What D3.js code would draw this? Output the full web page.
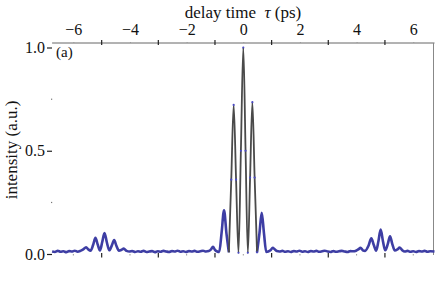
<!DOCTYPE html>
<html>
<head>
<meta charset="utf-8">
<script src="https://cdn.jsdelivr.net/npm/d3@7"></script>
<style>
    body { margin: 0; background: #fff; }
    svg, svg text { font-family: "Liberation Serif", "DejaVu Serif", serif; }
</style>
</head>
<body>
<svg id="chart" width="436" height="300"></svg>
<script>
const tau = [
    -6.75, -6.65, -6.55, -6.45, -6.35, -6.25, -6.15, -6.05, -5.95, -5.85,
    -5.75, -5.65, -5.55, -5.47, -5.39, -5.30, -5.22, -5.14, -5.06, -4.98,
    -4.90, -4.82, -4.73, -4.64, -4.56, -4.48, -4.39, -4.30, -4.22, -4.12,
    -4.02, -3.92, -3.82, -3.72, -3.62, -3.52, -3.42, -3.32, -3.22, -3.12,
    -3.02, -2.92, -2.82, -2.72, -2.62, -2.52, -2.42, -2.32, -2.22, -2.12,
    -2.02, -1.92, -1.82, -1.72, -1.62, -1.52, -1.42, -1.32, -1.22, -1.14,
    -1.07, -1.00, -0.92, -0.85, -0.765, -0.68, -0.595, -0.51, -0.425, -0.34,
    -0.255, -0.17, -0.085, 0.00, 0.08, 0.16, 0.24, 0.32, 0.40, 0.485,
    0.57, 0.65, 0.73, 0.81, 0.88, 0.96, 1.04, 1.10, 1.18, 1.28,
    1.38, 1.48, 1.58, 1.68, 1.78, 1.88, 1.98, 2.08, 2.18, 2.28,
    2.38, 2.48, 2.58, 2.68, 2.78, 2.88, 2.98, 3.08, 3.18, 3.28,
    3.38, 3.48, 3.58, 3.68, 3.78, 3.88, 3.98, 4.06, 4.14, 4.22,
    4.30, 4.42, 4.52, 4.61, 4.69, 4.77, 4.85, 4.93, 5.01, 5.10,
    5.18, 5.26, 5.35, 5.44, 5.52, 5.60, 5.70, 5.80, 5.90, 6.00,
    6.10, 6.20, 6.30, 6.40, 6.50, 6.60, 6.75
];
const intensity = [
    0.012, 0.010, 0.015, 0.011, 0.013, 0.009, 0.014, 0.012, 0.016, 0.011,
    0.015, 0.022, 0.033, 0.022, 0.016, 0.045, 0.078, 0.046, 0.017, 0.058,
    0.102, 0.058, 0.018, 0.042, 0.067, 0.040, 0.016, 0.020, 0.026, 0.015,
    0.012, 0.014, 0.010, 0.013, 0.011, 0.015, 0.010, 0.012, 0.014, 0.009,
    0.013, 0.011, 0.015, 0.012, 0.010, 0.014, 0.012, 0.016, 0.011, 0.013,
    0.010, 0.014, 0.012, 0.015, 0.011, 0.013, 0.016, 0.012, 0.014, 0.022,
    0.035, 0.020, 0.012, 0.010, 0.105, 0.212, 0.100, 0.008, 0.360, 0.722,
    0.360, 0.006, 0.500, 1.000, 0.500, 0.006, 0.370, 0.735, 0.370, 0.008,
    0.100, 0.200, 0.100, 0.010, 0.012, 0.018, 0.030, 0.024, 0.014, 0.012,
    0.015, 0.011, 0.013, 0.010, 0.014, 0.012, 0.016, 0.011, 0.013, 0.010,
    0.014, 0.012, 0.015, 0.011, 0.013, 0.016, 0.012, 0.010, 0.014, 0.011,
    0.013, 0.015, 0.012, 0.010, 0.014, 0.013, 0.016, 0.022, 0.030, 0.018,
    0.015, 0.040, 0.076, 0.042, 0.016, 0.062, 0.118, 0.062, 0.018, 0.048,
    0.086, 0.048, 0.017, 0.022, 0.031, 0.020, 0.012, 0.015, 0.011, 0.013,
    0.010, 0.014, 0.012, 0.015, 0.011, 0.013, 0.012
];

// fitted curve over the central burst
const fitTau = [-1.0, -0.92, -0.85, -0.765, -0.68, -0.595, -0.51, -0.425, -0.34, -0.255,
    -0.17, -0.085, 0.00, 0.08, 0.16, 0.24, 0.32, 0.40, 0.485, 0.57, 0.65, 0.73, 0.81, 0.88];
const fitInt = [0.014, 0.012, 0.010, 0.105, 0.212, 0.100, 0.008, 0.360, 0.722, 0.360,
    0.006, 0.500, 1.000, 0.500, 0.006, 0.370, 0.735, 0.370, 0.008, 0.100, 0.200, 0.100, 0.010, 0.012];

const xLabels = [-6, -4, -2, 0, 2, 4, 6];
const xMajor = [-5, -3, -1, 1, 3, 5];
const yLabels = [0, 0.5, 1.0];
const yMinor = [0.25, 0.75];

const svg = d3.select("#chart");
const blue = "#3e3ea4";
const serif = '"Liberation Serif", "DejaVu Serif", serif';

let x = d3.scaleLinear().domain([-6.75, 6.75]).range([52.1, 434.5]);
let y = d3.scaleLinear().domain([0, 1]).range([254, 47.5]);
const plotTop = 43, plotBottom = 254;

// frame: top and right only
svg.append("line").attr("x1", x.range()[0]).attr("x2", x.range()[1])
    .attr("y1", plotTop).attr("y2", plotTop).attr("stroke", "#666").attr("stroke-width", 1);
svg.append("line").attr("x1", 433.5).attr("x2", 433.5)
    .attr("y1", plotTop).attr("y2", plotBottom + 1).attr("stroke", "#888").attr("stroke-width", 1);

// top axis labels
let topLab = svg.append("g").attr("transform", `translate(0,${plotTop})`)
    .call(d3.axisTop(x).tickValues(xLabels).tickSize(1).tickPadding(7).tickFormat(d3.format("d")));
topLab.attr("font-family", serif).attr("font-size", 16);
topLab.select(".domain").remove();
topLab.selectAll(".tick line").attr("stroke", "#999");
topLab.selectAll(".tick text").attr("fill", "#111").style("font-family", serif);

// top odd ticks crossing the frame
svg.append("g").selectAll("line").data(xMajor).join("line")
    .attr("x1", d => x(d)).attr("x2", d => x(d))
    .attr("y1", plotTop - 3).attr("y2", plotTop + 2)
    .attr("stroke", "#222").attr("stroke-width", 1.2);

// bottom ticks
svg.append("g").selectAll("line").data(xMajor).join("line")
    .attr("x1", d => x(d)).attr("x2", d => x(d))
    .attr("y1", plotBottom - 1).attr("y2", plotBottom + 3.5)
    .attr("stroke", "#222").attr("stroke-width", 1.2);
svg.append("g").selectAll("line").data(xLabels).join("line")
    .attr("x1", d => x(d)).attr("x2", d => x(d))
    .attr("y1", plotBottom).attr("y2", plotBottom + 1.5)
    .attr("stroke", "#999").attr("stroke-width", 1);

// left axis
let left = svg.append("g").attr("transform", "translate(52,0)")
    .call(d3.axisLeft(y).tickValues(yLabels).tickSize(5).tickPadding(2).tickFormat(d3.format(".1f")));
left.attr("font-family", serif).attr("font-size", 16);
left.select(".domain").remove();
left.selectAll(".tick line").attr("stroke", "#222").attr("stroke-width", 1.2);
left.selectAll(".tick text").attr("fill", "#111").style("font-family", serif);
svg.append("g").selectAll("rect").data(yMinor).join("rect")
    .attr("x", 51).attr("y", d => y(d) - 0.5).attr("width", 1.2).attr("height", 1.2)
    .attr("fill", "#777");

// measured trace: dense noisy band on the wings, sparse markers in the burst
let line = d3.line().x(d => x(d[0])).y(d => y(d[1])).curve(d3.curveMonotoneX);
let meas = tau.map((t, i) => [t, intensity[i]]);
let wingL = meas.filter(d => d[0] <= -0.51);
let wingR = meas.filter(d => d[0] >= 0.485);
svg.append("g").selectAll("path").data([wingL, wingR]).join("path")
    .attr("d", line).attr("fill", "none")
    .attr("stroke", blue).attr("stroke-width", 2.6).attr("stroke-linejoin", "round");

// fit
let fit = fitTau.map((t, i) => [t, fitInt[i]]);
svg.append("path").datum(fit.filter(d => d[0] >= -0.52 && d[0] <= 0.49))
    .attr("d", line).attr("fill", "none")
    .attr("stroke", "#4a4a4a").attr("stroke-width", 1.8);

// data markers on the central burst
svg.append("g").selectAll("circle").data(meas.filter(d => Math.abs(d[0]) < 0.5)).join("circle")
    .attr("cx", d => x(d[0])).attr("cy", d => y(d[1])).attr("r", 1.1)
    .attr("fill", "#4a4ac4");

// titles
svg.append("text").attr("x", 243).attr("y", 18).attr("text-anchor", "middle")
    .attr("font-size", 17).attr("fill", "#111")
    .html('delay time&#160;&#160;<tspan font-style="italic">τ</tspan> (ps)');
svg.append("text").attr("transform", "translate(17,150) rotate(-90)")
    .attr("text-anchor", "middle").attr("font-size", 17).attr("fill", "#111")
    .text("intensity (a.u.)");
svg.append("text").attr("x", 56).attr("y", 57).attr("font-size", 15).attr("fill", "#111")
    .text("(a)");
</script>
</body>
</html>
